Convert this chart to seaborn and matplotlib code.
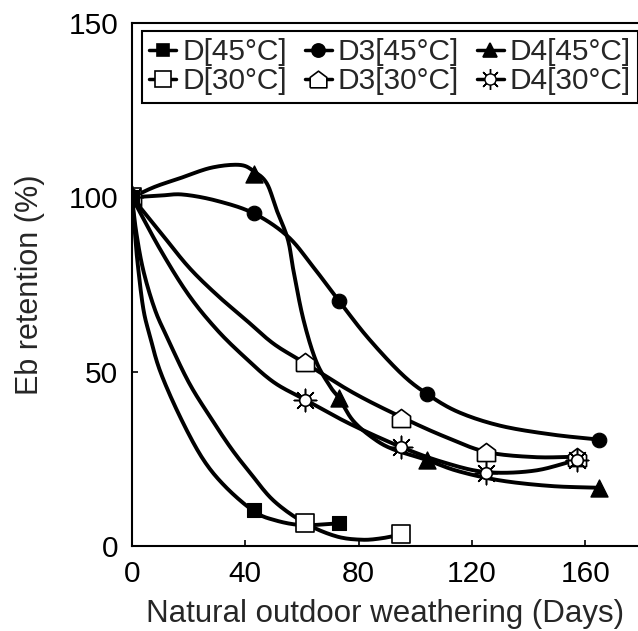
import numpy as np
import pandas as pd
import matplotlib
matplotlib.use("Agg")
import matplotlib.pyplot as plt
import seaborn as sns
from matplotlib.lines import Line2D
from matplotlib.markers import MarkerStyle
from matplotlib.legend_handler import HandlerTuple

# ---------------- data ----------------
labels = ["D[45°C]", "D3[45°C]", "D4[45°C]", "D[30°C]", "D3[30°C]", "D4[30°C]"]

# measured points (markers)
d45_x = [0, 43, 73]
d45_y = [100, 10.3, 6.6]
d3_45_x = [0, 43, 73, 104, 165]
d3_45_y = [100, 95.4, 70.4, 43.7, 30.5]
d4_45_x = [0, 43, 73, 104, 165]
d4_45_y = [100, 106.6, 42.5, 24.7, 16.7]
d30_x = [0, 61, 95]
d30_y = [100, 6.6, 3.4]
d3_30_x = [0, 61, 95, 125, 157]
d3_30_y = [100, 52.9, 36.8, 27, 25.6]
d4_30_x = [0, 61, 95, 125, 157]
d4_30_y = [100, 42, 28.4, 21, 24.7]

# fitted curves
c_d45_x = [0, 1, 2, 4, 6.4, 10, 17, 25, 33, 43, 50, 60, 73]
c_d45_y = [100, 90, 81, 68, 60, 50, 37, 25, 17, 10, 7.5, 6, 6.5]
c_d30_x = [0, 1.5, 4, 8, 12.3, 20, 27.6, 35, 41.7, 50, 61, 72, 81, 88, 95]
c_d30_y = [100, 90, 79, 68, 60, 47, 37, 28, 21, 13, 6.6, 2.8, 1.8, 2.2, 3.3]
c_d3_45_x = [0, 10, 18, 30, 43, 55, 64, 73, 83, 95, 104, 115, 130, 148, 165]
c_d3_45_y = [100, 100.5, 100.8, 99, 95.4, 88.8, 80, 70.4, 60, 49.5, 43.7, 38.5, 34.5, 32, 30.5]
c_d4_45_x = [0, 8, 17, 28, 38, 43, 47.6, 51, 55, 57, 60.5, 65, 70, 73, 78, 85, 92, 104, 115, 130, 148, 165]
c_d4_45_y = [100, 103, 105.5, 108.5, 109.3, 107.5, 104, 96.5, 88, 79, 65, 53, 45.7, 42.5, 36, 31, 27.8, 24.7, 21.5, 18.8, 17.2, 16.7]
c_d3_30_x = [0, 10, 20, 30, 40, 50, 61, 78, 95, 110, 125, 142, 157]
c_d3_30_y = [100, 90, 80, 72, 65, 58, 52.5, 44, 37, 31.5, 27, 25.5, 25.6]
c_d4_30_x = [0, 10, 20, 30, 40, 50, 61, 77, 95, 110, 125, 142, 157]
c_d4_30_y = [100, 85, 72, 62, 54, 47, 42, 35, 28.4, 24, 21.2, 21.6, 24.7]

x_ticks = [0, 40, 80, 120, 160]
y_ticks = [0, 50, 100, 150]
x_label = "Natural outdoor weathering (Days)"
y_label = "Eb retention (%)"


def smooth(xs, ys, n=16):
    """Uniform Catmull-Rom through the traced knots (drawing aid only)."""
    P = np.column_stack([xs, ys]).astype(float)
    P = np.vstack([2 * P[0] - P[1], P, 2 * P[-1] - P[-2]])
    out = []
    t = np.linspace(0, 1, n, endpoint=False)[:, None]
    for i in range(1, len(P) - 2):
        p0, p1, p2, p3 = P[i - 1], P[i], P[i + 1], P[i + 2]
        q = 0.5 * (2 * p1 + (-p0 + p2) * t + (2 * p0 - 5 * p1 + 4 * p2 - p3) * t ** 2
                   + (-p0 + 3 * p1 - 3 * p2 + p3) * t ** 3)
        out.append(q)
    out.append(P[-2][None, :])
    out = np.vstack(out)
    return out[:, 0], out[:, 1]


sns.set_theme(style="ticks")
plt.rcParams["font.family"] = ["Liberation Sans", "DejaVu Sans"]
plt.rcParams["axes.linewidth"] = 1.5

fig = plt.figure(figsize=(6.38, 6.31), dpi=100)
ax = fig.add_axes([132 / 638, 85 / 631, 507 / 638, 523 / 631])

LW = 2.8
curves = [(c_d45_x, c_d45_y), (c_d30_x, c_d30_y), (c_d3_45_x, c_d3_45_y),
          (c_d4_45_x, c_d4_45_y), (c_d3_30_x, c_d3_30_y), (c_d4_30_x, c_d4_30_y)]
for cx, cy in curves:
    sx, sy = smooth(cx, cy)
    df = pd.DataFrame({"x": sx, "y": sy})
    sns.lineplot(data=df, x="x", y="y", sort=False, estimator=None, color="black",
                 lw=LW, ax=ax, zorder=2)

house = MarkerStyle(np.array([[-1, -1], [1, -1], [1, 0.25], [0, 1], [-1, 0.25], [-1, -1]]))
star8 = MarkerStyle((8, 2, 0))

# open markers first
sns.scatterplot(x=d30_x, y=d30_y, marker="s", s=150, color="white", edgecolor="black",
                linewidth=1.2, ax=ax, zorder=3)
sns.scatterplot(x=d3_30_x, y=d3_30_y, marker=house, s=170, color="white", edgecolor="black",
                linewidth=1.2, ax=ax, zorder=3)
sns.scatterplot(x=d4_30_x, y=d4_30_y, marker=star8, s=260, color="black",
                linewidth=1.1, ax=ax, zorder=3)
sns.scatterplot(x=d4_30_x, y=d4_30_y, marker="o", s=70, color="white", edgecolor="black",
                linewidth=1.2, ax=ax, zorder=3)
# filled markers
sns.scatterplot(x=d3_45_x, y=d3_45_y, marker="o", s=110, color="black", edgecolor="black",
                ax=ax, zorder=4)
sns.scatterplot(x=d4_45_x, y=d4_45_y, marker="^", s=150, color="black", edgecolor="black",
                ax=ax, zorder=4)
sns.scatterplot(x=d45_x, y=d45_y, marker="s", s=95, color="black", edgecolor="black",
                ax=ax, zorder=5)

ax.set_xlim(0, 179)
ax.set_ylim(0, 150)
ax.set_xticks(x_ticks)
ax.set_yticks(y_ticks)
ax.tick_params(direction="in", length=4, width=1.2, labelsize=21.5, pad=10, colors="black")
ax.set_xlabel(x_label, fontsize=22.5, labelpad=8)
ax.set_ylabel(y_label, fontsize=22, labelpad=17)
for sp in ax.spines.values():
    sp.set_color("black")
ax.spines["right"].set_visible(False)

# legend
def h(marker, face, ms):
    return Line2D([], [], color="black", lw=2.5, marker=marker, markersize=ms,
                  markerfacecolor=face, markeredgecolor="black", markeredgewidth=1.2)

sun = (Line2D([], [], color="black", lw=2.5, marker=star8, markersize=15, markeredgewidth=1.0),
       Line2D([], [], color="none", lw=0, marker="o", markersize=8, markerfacecolor="white",
              markeredgecolor="black", markeredgewidth=1.0))
handles = [h("s", "black", 8), h("o", "black", 9.5), h("^", "black", 10),
           h("s", "white", 11), h(house, "white", 12), sun]
order = [0, 3, 1, 4, 2, 5]
leg = ax.legend([handles[i] for i in order], [labels[i] for i in order], ncol=3,
                loc="upper left", bbox_to_anchor=(142 / 638, 1 - 31 / 631),
                bbox_transform=fig.transFigure, fontsize=21.5, frameon=True,
                fancybox=False, edgecolor="black", framealpha=1, handlelength=0.9,
                handletextpad=0.2, columnspacing=0.6, borderpad=0.25, labelspacing=0.02,
                borderaxespad=0, handler_map={tuple: HandlerTuple(ndivide=1, pad=0)})
leg.get_frame().set_linewidth(1.5)

fig.savefig("out.png", dpi=100)
